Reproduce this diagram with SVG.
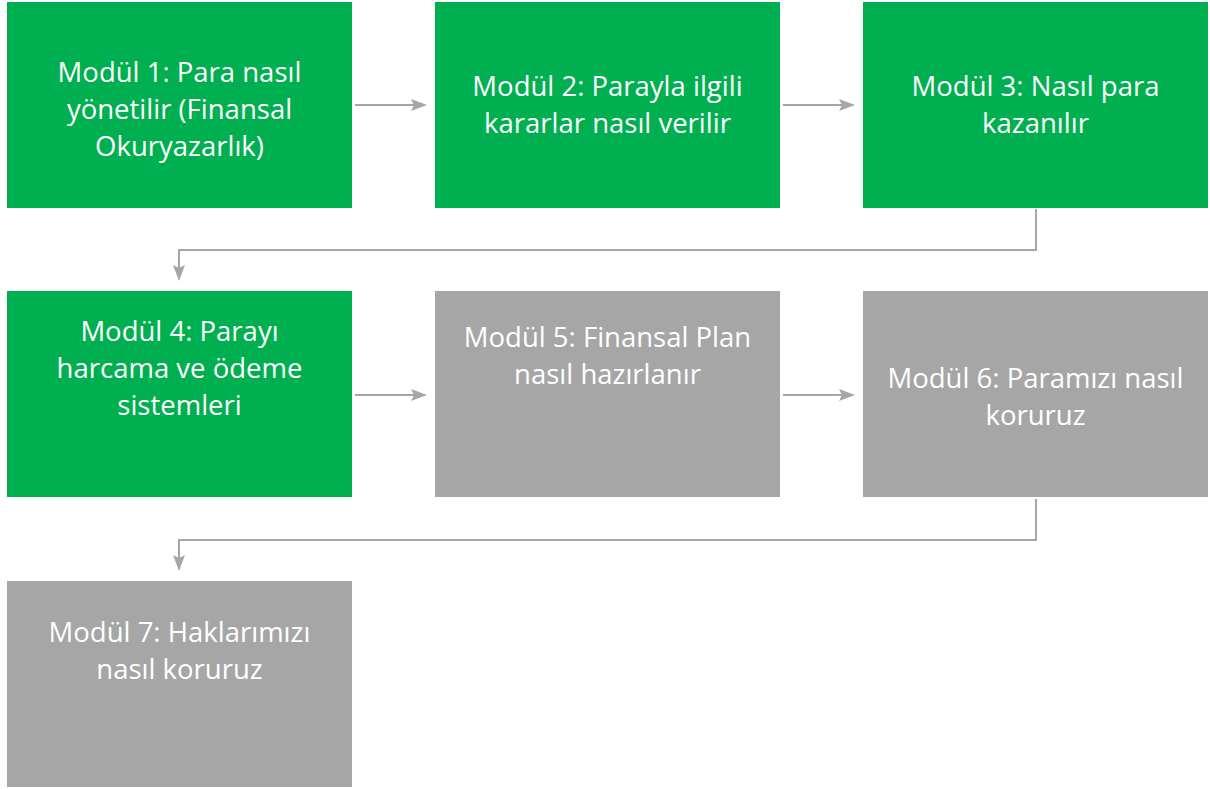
<svg xmlns="http://www.w3.org/2000/svg" width="1210" height="789" viewBox="0 0 1210 789">
<style>
.g{fill:#00B050}.s{fill:#A6A6A6}
text{font-family:"Open Sans","Liberation Sans",sans-serif;font-size:27.5px;fill:#fff;text-anchor:middle}
.c{fill:none;stroke:#A6A6A6;stroke-width:2}
</style>
<defs><marker id="a" markerWidth="16" markerHeight="12" refX="14" refY="6" orient="auto" markerUnits="userSpaceOnUse"><path d="M0,0 L16,6 L0,12 L3,6 Z" fill="#A6A6A6"/></marker></defs>
<rect width="1210" height="789" fill="#fff"/>
<g id="connectors">
<path class="c" d="M355,105 H425" marker-end="url(#a)"/>
<path class="c" d="M783,105 H853" marker-end="url(#a)"/>
<path class="c" d="M1036,209 V250 H179 V279" marker-end="url(#a)"/>
<path class="c" d="M355,395 H425" marker-end="url(#a)"/>
<path class="c" d="M783,395 H853" marker-end="url(#a)"/>
<path class="c" d="M1036,499 V540 H179 V569" marker-end="url(#a)"/>
</g>
<g id="m1"><rect class="g" x="7" y="2" width="345" height="206"/><text x="179.5" y="82">Modül 1: Para nasıl</text><text x="179.5" y="119">yönetilir (Finansal</text><text x="179.5" y="156">Okuryazarlık)</text></g>
<g id="m2"><rect class="g" x="435" y="2" width="345" height="206"/><text x="607.5" y="96">Modül 2: Parayla ilgili</text><text x="607.5" y="133">kararlar nasıl verilir</text></g>
<g id="m3"><rect class="g" x="863" y="2" width="345" height="206"/><text x="1035.5" y="96">Modül 3: Nasıl para</text><text x="1035.5" y="133">kazanılır</text></g>
<g id="m4"><rect class="g" x="7" y="291" width="345" height="206"/><text x="179.5" y="341">Modül 4: Parayı</text><text x="179.5" y="378">harcama ve ödeme</text><text x="179.5" y="415">sistemleri</text></g>
<g id="m5"><rect class="s" x="435" y="291" width="345" height="206"/><text x="607.5" y="347">Modül 5: Finansal Plan</text><text x="607.5" y="384">nasıl hazırlanır</text></g>
<g id="m6"><rect class="s" x="863" y="291" width="345" height="206"/><text x="1035.5" y="388">Modül 6: Paramızı nasıl</text><text x="1035.5" y="425">koruruz</text></g>
<g id="m7"><rect class="s" x="7" y="581" width="345" height="206"/><text x="179.5" y="642">Modül 7: Haklarımızı</text><text x="179.5" y="679">nasıl koruruz</text></g>
</svg>
